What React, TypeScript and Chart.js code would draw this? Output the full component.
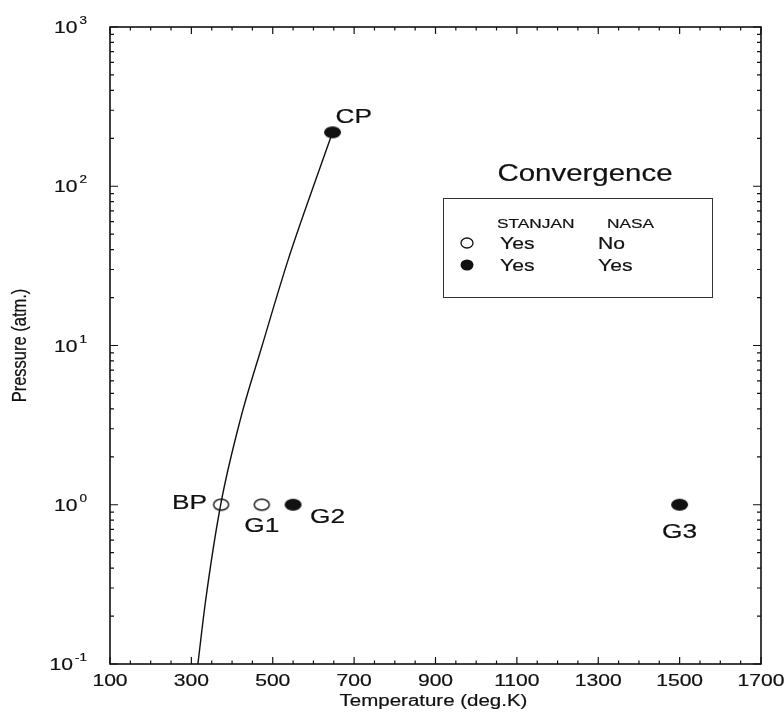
import React, { useEffect, useRef } from "react";
import { Chart, registerables } from "chart.js";

Chart.register(...registerables);

// ---------- data ----------
const curveTemperature = [316, 335, 372, 420, 474, 537, 600, 647];
const curvePressure = [0.1, 0.25, 1, 3.4, 10, 34, 100, 218];

const openNames = ["BP", "G1"];
const openTemperature = [373, 473];
const openPressure = [1, 1];

const filledNames = ["CP", "G2", "G3"];
const filledTemperature = [647, 550, 1500];
const filledPressure = [218, 1, 1];

const xTickValues = [100, 300, 500, 700, 900, 1100, 1300, 1500, 1700];
const yTickExponents = [-1, 0, 1, 2, 3];

const xTitle = "Temperature (deg.K)";
const yTitle = "Pressure (atm.)";
const legendTitle = "Convergence";
const legendHeader = ["STANJAN", "NASA"];
const legendOpenRow = ["Yes", "No"];
const legendFilledRow = ["Yes", "Yes"];

// ---------- styling helpers ----------
const FONT = '"Liberation Sans", Arial, Helvetica, sans-serif';
const SX = 1.28; // horizontal stretch of the scanned original
const INK = "#111";
const WEIGHT = 0.2;

function sText(
  ctx: CanvasRenderingContext2D,
  text: string,
  x: number,
  y: number,
  size: number,
  align: "left" | "center" | "right",
  sx: number = SX
) {
  ctx.save();
  ctx.font = `${size}px ${FONT}`;
  const w = ctx.measureText(text).width * sx;
  const left = align === "left" ? x : align === "center" ? x - w / 2 : x - w;
  ctx.translate(left, y);
  ctx.scale(sx, 1);
  ctx.textAlign = "left";
  ctx.textBaseline = "alphabetic";
  ctx.fillStyle = INK;
  ctx.fillText(text, 0, 0);
  ctx.strokeStyle = INK;
  ctx.lineWidth = WEIGHT;
  ctx.strokeText(text, 0, 0);
  ctx.restore();
  return w;
}

function textWidth(ctx: CanvasRenderingContext2D, text: string, size: number, sx: number = SX) {
  ctx.save();
  ctx.font = `${size}px ${FONT}`;
  const w = ctx.measureText(text).width * sx;
  ctx.restore();
  return w;
}

function makeEllipse(rx: number, ry: number, filled: boolean) {
  const c = document.createElement("canvas");
  c.width = Math.ceil(rx * 2 + 4);
  c.height = Math.ceil(ry * 2 + 4);
  const g = c.getContext("2d")!;
  g.beginPath();
  g.ellipse(c.width / 2, c.height / 2, rx, ry, 0, 0, Math.PI * 2);
  if (filled) {
    g.fillStyle = INK;
    g.fill();
  } else {
    g.fillStyle = "#fff";
    g.fill();
    g.lineWidth = 1.4;
    g.strokeStyle = INK;
    g.stroke();
  }
  return c;
}

// label placement relative to the point (pixels)
const labelPlacement: Record<string, { dx: number; dy: number; align: "left" | "center" | "right" }> = {
  CP: { dx: 3, dy: -9, align: "left" },
  BP: { dx: -14, dy: 4, align: "right" },
  G1: { dx: 0, dy: 27, align: "center" },
  G2: { dx: 17, dy: 18, align: "left" },
  G3: { dx: 0, dy: 33, align: "center" },
};

const framePlugin = {
  id: "framePlugin",
  afterDraw(chart: any) {
    const ctx: CanvasRenderingContext2D = chart.ctx;
    const xs = chart.scales.x;
    const ys = chart.scales.y;
    const ca = chart.chartArea;

    ctx.save();
    // frame
    ctx.strokeStyle = INK;
    ctx.lineWidth = 1.6;
    ctx.strokeRect(ca.left, ca.top, ca.right - ca.left, ca.bottom - ca.top);

    // x ticks (inward, top and bottom)
    ctx.lineWidth = 1.2;
    const xMin = xTickValues[0];
    const xMax = xTickValues[xTickValues.length - 1];
    for (let v = xMin; v <= xMax; v += 50) {
      const px = xs.getPixelForValue(v);
      const major = (v - xMin) % 200 === 0;
      const len = major ? 7 : 3.5;
      ctx.beginPath();
      ctx.moveTo(px, ca.bottom);
      ctx.lineTo(px, ca.bottom - len);
      ctx.moveTo(px, ca.top);
      ctx.lineTo(px, ca.top + len);
      ctx.stroke();
    }
    // y ticks (inward, left and right)
    for (let i = 0; i < yTickExponents.length; i++) {
      const e = yTickExponents[i];
      for (let m = 1; m <= 9; m++) {
        if (i === yTickExponents.length - 1 && m > 1) break;
        const py = ys.getPixelForValue(m * Math.pow(10, e));
        const len = m === 1 ? 8 : 4;
        ctx.beginPath();
        ctx.moveTo(ca.left, py);
        ctx.lineTo(ca.left + len, py);
        ctx.moveTo(ca.right, py);
        ctx.lineTo(ca.right - len, py);
        ctx.stroke();
      }
    }

    // x tick labels
    for (const v of xTickValues) {
      sText(ctx, String(v), xs.getPixelForValue(v), ca.bottom + 22, 16.5, "center");
    }
    // y tick labels 10^e
    const right = 87;
    for (const e of yTickExponents) {
      const py = ys.getPixelForValue(Math.pow(10, e));
      const expStr = String(e);
      const we = textWidth(ctx, expStr, 10.5);
      const expLeft = right - we;
      sText(ctx, expStr, expLeft, py - 3, 10.5, "left");
      sText(ctx, "10", expLeft - 2, py + 6, 16.5, "right");
    }

    // axis titles
    sText(ctx, xTitle, (ca.left + ca.right) / 2 - 2, ca.bottom + 42, 16, "center");
    ctx.save();
    ctx.translate(21, (ca.top + ca.bottom) / 2);
    ctx.scale(1.2, 1);
    ctx.rotate(-Math.PI / 2);
    ctx.font = `16.5px ${FONT}`;
    ctx.fillStyle = INK;
    ctx.textAlign = "center";
    ctx.textBaseline = "middle";
    ctx.fillText(yTitle, 0, 0);
    ctx.strokeStyle = INK;
    ctx.lineWidth = WEIGHT;
    ctx.strokeText(yTitle, 0, 0);
    ctx.restore();

    // point labels
    const drawLabels = (names: string[], ts: number[], ps: number[]) => {
      names.forEach((n, i) => {
        const px = xs.getPixelForValue(ts[i]);
        const py = ys.getPixelForValue(ps[i]);
        const p = labelPlacement[n] || { dx: 0, dy: 0, align: "left" as const };
        sText(ctx, n, px + p.dx, py + p.dy, 20.5, p.align);
      });
    };
    drawLabels(openNames, openTemperature, openPressure);
    drawLabels(filledNames, filledTemperature, filledPressure);

    // legend block
    sText(ctx, legendTitle, 585, 181, 23, "center");
    ctx.lineWidth = 1;
    ctx.strokeStyle = "#333";
    ctx.strokeRect(443.5, 198.5, 269, 99);
    sText(ctx, legendHeader[0], 497, 228, 13.5, "left");
    sText(ctx, legendHeader[1], 607, 228, 13.5, "left");
    // row markers
    ctx.beginPath();
    ctx.ellipse(467, 243, 6, 5, 0, 0, Math.PI * 2);
    ctx.lineWidth = 1.3;
    ctx.strokeStyle = INK;
    ctx.stroke();
    ctx.beginPath();
    ctx.ellipse(467, 265, 6.5, 5.5, 0, 0, Math.PI * 2);
    ctx.fillStyle = INK;
    ctx.fill();
    sText(ctx, legendOpenRow[0], 500, 249, 16.5, "left");
    sText(ctx, legendOpenRow[1], 598, 249, 16.5, "left");
    sText(ctx, legendFilledRow[0], 500, 271, 16.5, "left");
    sText(ctx, legendFilledRow[1], 598, 271, 16.5, "left");

    ctx.restore();
  },
};

export default function App() {
  const ref = useRef<HTMLCanvasElement>(null);

  useEffect(() => {
    if (!ref.current) return;
    const openImg = makeEllipse(7.5, 5.5, false);
    const filledImg = makeEllipse(8.5, 6, true);

    const chart = new Chart(ref.current, {
      type: "scatter",
      data: {
        datasets: [
          {
            label: "Vapor pressure curve",
            data: curveTemperature.map((t, i) => ({ x: t, y: curvePressure[i] })),
            showLine: true,
            borderColor: INK,
            borderWidth: 1.4,
            pointRadius: 0,
            cubicInterpolationMode: "monotone",
            fill: false,
          } as any,
          {
            label: "STANJAN Yes / NASA No",
            data: openTemperature.map((t, i) => ({ x: t, y: openPressure[i] })),
            showLine: false,
            pointStyle: openImg as any,
            pointRadius: 8,
          } as any,
          {
            label: "STANJAN Yes / NASA Yes",
            data: filledTemperature.map((t, i) => ({ x: t, y: filledPressure[i] })),
            showLine: false,
            pointStyle: filledImg as any,
            pointRadius: 8,
          } as any,
        ],
      },
      options: {
        animation: false,
        responsive: false,
        events: [],
        layout: { padding: { left: 110, top: 27, right: 23, bottom: 49 } },
        scales: {
          x: { type: "linear", min: 100, max: 1700, display: false },
          y: { type: "logarithmic", min: 0.1, max: 1000, display: false },
        },
        plugins: {
          legend: { display: false },
          tooltip: { enabled: false },
        },
      },
      plugins: [framePlugin],
    });
    return () => chart.destroy();
  }, []);

  return (
    <canvas
      ref={ref}
      width={784}
      height={713}
      style={{ position: "absolute", left: 0, top: 0, display: "block", background: "#fff" }}
    />
  );
}
